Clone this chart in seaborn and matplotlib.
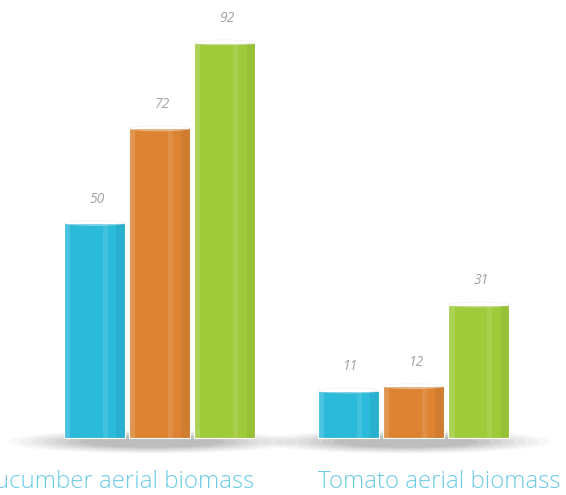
import numpy as np
import pandas as pd
import matplotlib
matplotlib.use("Agg")
import matplotlib.pyplot as plt
from matplotlib.patches import Ellipse
import seaborn as sns

# dados
categorias = ["Cucumber aerial biomass", "Tomato aerial biomass"]
series = ["A", "B", "C"]
valores_pepino = [50, 72, 92]
valores_tomate = [11, 12, 31]
cores = ["#2cbadb", "#dc8432", "#9fcb3b"]

dados = pd.DataFrame({
    "categoria": [categorias[0]] * 3 + [categorias[1]] * 3,
    "serie": series * 2,
    "valor": valores_pepino + valores_tomate,
})

sns.set_theme(style="white")
plt.rcParams["font.family"] = ["Open Sans", "DejaVu Sans"]

fig = plt.figure(figsize=(5.66, 4.95), dpi=100)
ax = fig.add_axes([0, 0, 1, 1])

# sombras sob cada grupo
for i in range(len(categorias)):
    for k, a in zip(np.linspace(1.0, 0.5, 7), [0.04, 0.05, 0.06, 0.07, 0.08, 0.09, 0.10]):
        ax.add_patch(Ellipse((i - 0.03, -0.9), 1.14 * k, 5.5 * k,
                             facecolor="#5e5e5e", edgecolor="none", alpha=a, zorder=0))

sns.barplot(data=dados, x="categoria", y="valor", hue="serie", palette=cores,
            saturation=1, width=0.77, gap=0.07, legend=False, ax=ax, zorder=2,
            edgecolor="white", linewidth=0.8)

# efeito de cilindro: faixas de brilho e sombra sobre cada barra
for p in list(ax.patches):
    if isinstance(p, Ellipse):
        continue
    x0, w, h = p.get_x(), p.get_width(), p.get_height()
    if h <= 0:
        continue
    ax.fill_between([x0, x0 + w * 0.1], 0, h, color="white", alpha=0.15, lw=0, zorder=3)
    ax.fill_between([x0 + w * 0.64, x0 + w * 0.72], 0, h, color="white", alpha=0.10, lw=0, zorder=3)
    ax.fill_between([x0 + w * 0.86, x0 + w], 0, h, color="black", alpha=0.05, lw=0, zorder=3)
    ax.add_patch(Ellipse((x0 + w / 2, h), w, 1.2, facecolor="white", edgecolor="#dddddd",
                         alpha=0.35, lw=0.6, zorder=4))
    ax.text(x0 + w / 2 + 0.01, h + 3.8, f"{h:.0f}", ha="center", va="bottom",
            fontsize=10, style="italic", color="#a3a3a3", zorder=5)

# rótulos das categorias (o primeiro sai cortado à esquerda, como no original)
for i, (cat, dx) in enumerate(zip(categorias, [-0.167, 0.1])):
    ax.text(i + dx, -10.3, cat, ha="center", va="center", fontsize=17.3,
            color="#6ccbe6", fontweight="light")

ax.set_xlim(-0.628, 1.6)
ax.set_ylim(-13.3, 101.9)
ax.axis("off")

fig.savefig("out.png", dpi=100)
